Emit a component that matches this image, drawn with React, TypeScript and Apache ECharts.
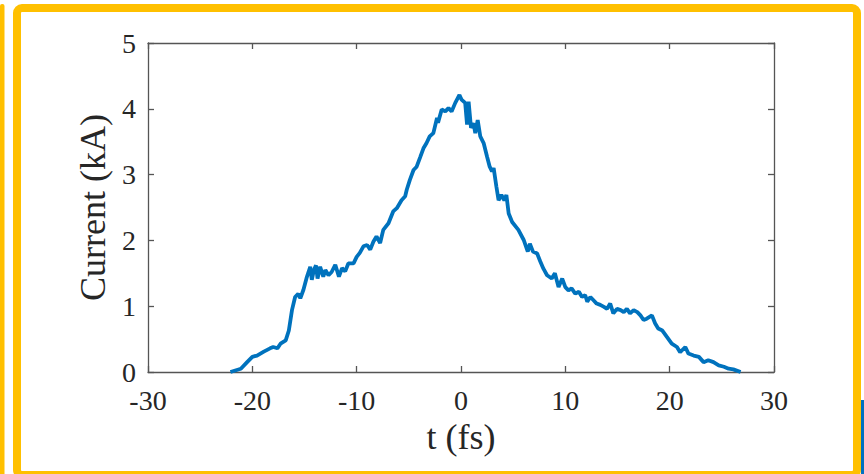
import React, { useEffect, useRef } from "react";
import * as echarts from "echarts";

const timeFs = [
  -22.1, -21.1, -20.5, -20.0, -19.55, -18.9, -18.3, -18.0, -17.6, -17.3,
  -16.8, -16.5, -16.2, -15.9, -15.6, -15.4, -15.1, -14.8, -14.45, -14.3,
  -14.1, -13.9, -13.75, -13.5, -13.2, -13.0, -12.7, -12.4, -12.05, -11.7,
  -11.4, -11.1, -10.8, -10.3, -10.0, -9.7, -9.35, -9.0, -8.7, -8.4,
  -8.1, -7.75, -7.45, -6.95, -6.5, -6.15, -5.7, -5.35, -5.2, -4.9,
  -4.55, -4.25, -3.9, -3.6, -3.3, -3.0, -2.65, -2.3, -2.2, -1.85,
  -1.5, -1.2, -0.9, -0.55, -0.15, 0.05, 0.4, 0.58, 0.73, 0.96,
  1.2, 1.37, 1.6, 1.85, 2.17, 2.5, 2.75, 2.97, 3.13, 3.39,
  3.6, 3.87, 4.15, 4.35, 4.57, 4.9, 5.5, 6.0, 6.4, 6.6,
  6.9, 7.3, 7.6, 7.9, 8.25, 8.7, 9.0, 9.35, 9.7, 10.0,
  10.3, 10.6, 10.95, 11.3, 11.6, 11.9, 12.1, 12.4, 12.7, 13.0,
  13.35, 13.7, 14.0, 14.3, 14.6, 14.95, 15.3, 15.6, 15.9, 16.2,
  16.55, 16.9, 17.2, 17.5, 17.8, 18.3, 18.6, 18.9, 19.3, 19.75,
  20.2, 20.7, 21.0, 21.5, 21.8, 22.3, 22.8, 23.25, 23.7, 24.2,
  24.7, 25.2, 25.65, 26.1, 26.8,
];

const currentKA = [
  0, 0.05, 0.15, 0.23, 0.25, 0.31, 0.36, 0.38, 0.36, 0.43,
  0.48, 0.63, 0.94, 1.14, 1.19, 1.12, 1.25, 1.43, 1.6, 1.4,
  1.55, 1.62, 1.42, 1.6, 1.45, 1.55, 1.47, 1.52, 1.63, 1.45,
  1.58, 1.53, 1.65, 1.65, 1.75, 1.81, 1.91, 1.93, 1.86, 1.98,
  2.06, 1.96, 2.16, 2.26, 2.44, 2.49, 2.61, 2.67, 2.77, 2.92,
  3.07, 3.12, 3.27, 3.4, 3.48, 3.58, 3.63, 3.86, 3.79, 3.99,
  3.96, 4.01, 3.96, 4.09, 4.21, 4.14, 4.09, 3.76, 4.11, 3.71,
  3.78, 3.63, 3.83, 3.58, 3.48, 3.27, 3.12, 3.05, 3.1, 2.82,
  2.61, 2.69, 2.61, 2.69, 2.41, 2.28, 2.16, 2.01, 1.83, 1.95,
  1.83, 1.8, 1.68, 1.57, 1.47, 1.42, 1.5, 1.29, 1.42, 1.29,
  1.24, 1.27, 1.19, 1.22, 1.14, 1.17, 1.07, 1.14, 1.09, 1.04,
  1.02, 0.99, 0.96, 1.04, 0.89, 0.96, 0.94, 0.91, 0.96, 0.89,
  0.94, 0.91, 0.86, 0.79, 0.81, 0.86, 0.74, 0.66, 0.63, 0.53,
  0.43, 0.38, 0.3, 0.38, 0.28, 0.25, 0.23, 0.15, 0.18, 0.15,
  0.1, 0.08, 0.05, 0.04, 0,
];

const xTicks = [-30, -20, -10, 0, 10, 20, 30];
const yTicks = [0, 1, 2, 3, 4, 5];

const xLabel = "t (fs)";
const yLabel = "Current (kA)";

const FONT = "'Liberation Serif', 'Times New Roman', serif";
const AXIS_COLOR = "#555555";
const TEXT_COLOR = "#262626";

export default function App() {
  const ref = useRef<HTMLDivElement>(null);

  useEffect(() => {
    if (!ref.current) return;
    const chart = echarts.init(ref.current, null, { renderer: "svg" });
    const n = Math.min(timeFs.length, currentKA.length);
    const data: number[][] = [];
    for (let i = 0; i < n; i++) data.push([timeFs[i], currentKA[i]]);

    const xMin = xTicks[0];
    const xMax = xTicks[xTicks.length - 1];
    const yMin = yTicks[0];
    const yMax = yTicks[yTicks.length - 1];

    const common = () => ({
      axisLine: { show: true, onZero: false, lineStyle: { color: AXIS_COLOR, width: 1.3 } },
      axisTick: { show: true, inside: true, length: 6, lineStyle: { color: AXIS_COLOR, width: 1.3 } },
      splitLine: { show: false },
    });

    chart.setOption({
      animation: false,
      backgroundColor: "#ffffff",
      grid: { left: 148, top: 43, width: 626, height: 329, containLabel: false },
      graphic: [
        {
          type: "rect",
          shape: { x: 0, y: 4, width: 4.5, height: 480, r: 2 },
          style: { fill: "#FFC000" },
          silent: true,
        },
        {
          type: "rect",
          shape: { x: 17, y: 8, width: 840, height: 467, r: 5 },
          style: { fill: "none", stroke: "#FFC000", lineWidth: 8 },
          silent: true,
        },
        {
          type: "rect",
          shape: { x: 861, y: 400, width: 4, height: 80 },
          style: { fill: "#0070C0" },
          silent: true,
        },
      ],
      xAxis: [
        {
          type: "value",
          position: "bottom",
          min: xMin,
          max: xMax,
          interval: 10,
          name: xLabel,
          nameLocation: "middle",
          nameGap: 43,
          nameTextStyle: { fontFamily: FONT, fontSize: 36, color: TEXT_COLOR },
          axisLabel: { fontFamily: FONT, fontSize: 28, color: TEXT_COLOR, margin: 14 },
          ...common(),
        },
        {
          type: "value",
          position: "top",
          min: xMin,
          max: xMax,
          interval: 10,
          axisLabel: { show: false },
          ...common(),
        },
      ],
      yAxis: [
        {
          type: "value",
          position: "left",
          min: yMin,
          max: yMax,
          interval: 1,
          name: yLabel,
          nameLocation: "middle",
          nameGap: 32,
          nameTextStyle: { fontFamily: FONT, fontSize: 36, color: TEXT_COLOR },
          axisLabel: { fontFamily: FONT, fontSize: 28, color: TEXT_COLOR, margin: 12 },
          ...common(),
        },
        {
          type: "value",
          position: "right",
          min: yMin,
          max: yMax,
          interval: 1,
          axisLabel: { show: false },
          ...common(),
        },
      ],
      series: [
        {
          type: "line",
          data,
          showSymbol: false,
          symbol: "none",
          lineStyle: { color: "#0072BD", width: 3.8 },
          xAxisIndex: 0,
          yAxisIndex: 0,
        },
      ],
    });
    return () => chart.dispose();
  }, []);

  return (
    <div
      ref={ref}
      style={{ position: "fixed", left: 0, top: 0, width: 864, height: 474, background: "#fff" }}
    />
  );
}
